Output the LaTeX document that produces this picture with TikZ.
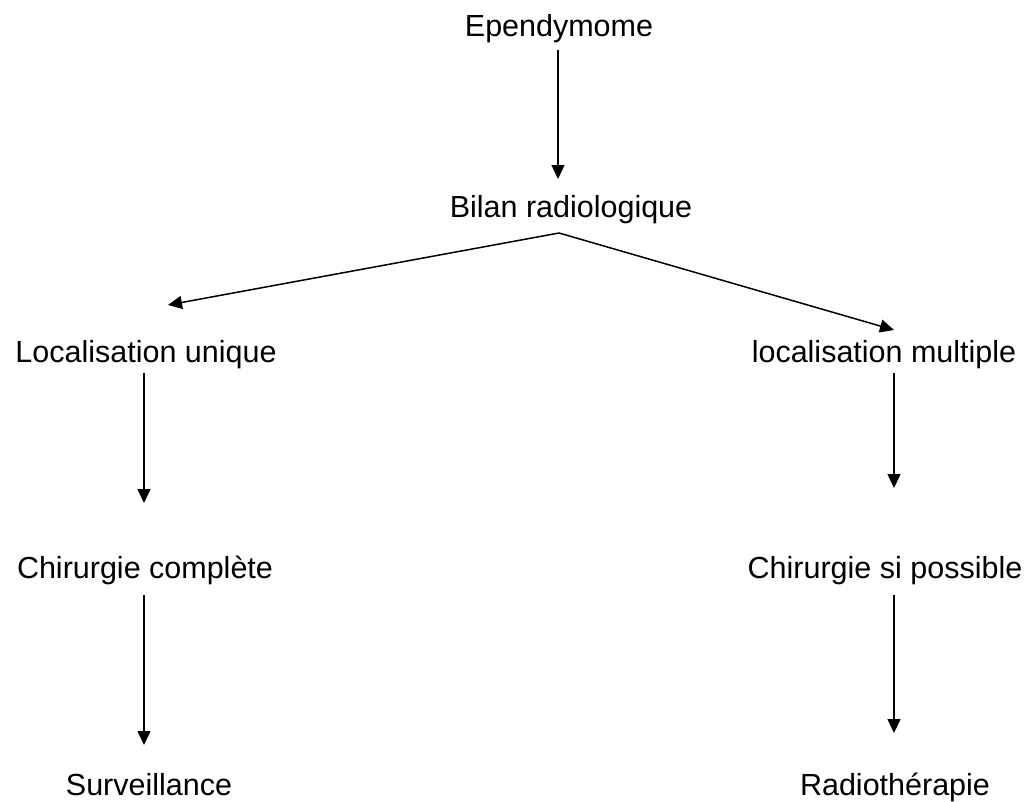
\documentclass[tikz,border=0pt]{standalone}
\usepackage{fontspec}
\setmainfont{Liberation Sans}
\usetikzlibrary{arrows.meta,calc}
\begin{document}
\begin{tikzpicture}[x=1pt,y=-1pt,
  lbl/.style={inner sep=0pt,anchor=base,font=\fontsize{30.5}{36}\selectfont},
  arr/.style={-{Triangle[length=14pt,width=13pt]},line width=1.5pt}]
\useasboundingbox[fill=white] (0,0) rectangle (1031,801);
\node[lbl] (ep) at (559,36) {Ependymome};
\node[lbl] (bilan) at (571,217) {Bilan radiologique};
\node[lbl] (loc1) at (146,362) {Localisation unique};
\node[lbl] (loc2) at (884,362) {localisation multiple};
\node[lbl] (chir1) at (145,578) {Chirurgie complète};
\node[lbl] (chir2) at (885,578) {Chirurgie si possible};
\node[lbl] (surv) at (149,795) {Surveillance};
\node[lbl] (radio) at (895,795) {Radiothérapie};
\coordinate (apex) at ($(bilan.base)+(-12,16)$);
\draw[arr] ($(ep.base)+(-1,14)$) -- ($(ep.base |- bilan.base)+(-1,-38)$);
\draw[arr] (apex) -- ($(loc1.base)+(22,-57)$);
\draw[arr] (apex) -- ($(loc2.base)+(10,-32)$);
\draw[arr] ($(loc1.base)+(-2,11)$) -- ($(loc1.base |- chir1.base)+(-2,-75)$);
\draw[arr] ($(loc2.base)+(10,11)$) -- ($(loc2.base |- chir2.base)+(10,-90)$);
\draw[arr] ($(chir1.base)+(-1,17)$) -- ($(chir1.base |- surv.base)+(-1,-50)$);
\draw[arr] ($(chir2.base)+(9,17)$) -- ($(chir2.base |- radio.base)+(9,-62)$);
\end{tikzpicture}
\end{document}
